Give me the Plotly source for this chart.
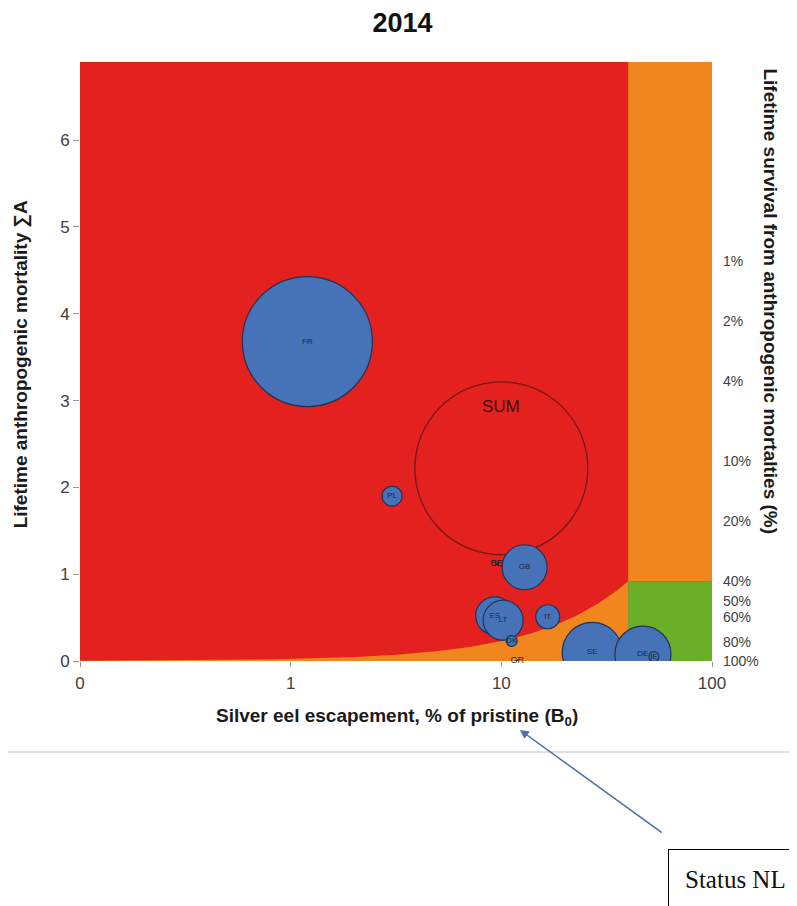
import numpy as np
import plotly.graph_objects as go

# ---------------- data ----------------
countries = ["FR", "PL", "BE", "GB", "ES", "LT", "IT", "DK", "GR", "SE", "DE", "IE"]
escapement = [1.2, 3.03, 9.5, 12.9, 9.3, 10.2, 16.6, 11.2, 11.9, 27.0, 47.0, 53.0]  # % of B0
mortality = [3.68, 1.90, 1.12, 1.08, 0.52, 0.47, 0.51, 0.23, 0.0, 0.10, 0.08, 0.05]  # sum A
biomass = [4225, 100, 1, 506, 361, 400, 144, 30, 1, 900, 784, 25]  # relative bubble area

sum_label = "SUM"
sum_escapement = 10.0
sum_mortality = 2.22
sum_biomass = 7480

B_LIM = 40.0      # % of pristine
A_LIM = 0.92      # lifetime mortality limit
X_MIN, X_MAX = 0.1, 100.0
Y_MAX = 6.9

x_tickvals = [0.1, 1, 10, 100]
x_ticktext = ["0", "1", "10", "100"]
y_tickvals = [0, 1, 2, 3, 4, 5, 6]
survival_pct = [1, 2, 4, 10, 20, 40, 50, 60, 80, 100]

# ---------------- colours ----------------
RED = "#E3211F"
ORANGE = "#EF861E"
GREEN = "#6BAF28"
BLUE = "#4672B8"
EDGE = "#1E3355"
TXT = "#404040"
FONT = "Liberation Sans"

fig = go.Figure()

# orange region under the limit curve
cx = np.logspace(np.log10(X_MIN), np.log10(B_LIM), 200)
cy = A_LIM * cx / B_LIM
fig.add_trace(go.Scatter(
    x=list(cx) + [B_LIM, X_MIN], y=list(cy) + [0, 0],
    fill="toself", fillcolor=ORANGE, mode="lines", line=dict(width=0),
    hoverinfo="skip", showlegend=False))
# orange upper right
fig.add_trace(go.Scatter(
    x=[B_LIM, X_MAX, X_MAX, B_LIM], y=[A_LIM, A_LIM, Y_MAX, Y_MAX],
    fill="toself", fillcolor=ORANGE, mode="lines", line=dict(width=0),
    hoverinfo="skip", showlegend=False))
# green lower right
fig.add_trace(go.Scatter(
    x=[B_LIM, X_MAX, X_MAX, B_LIM], y=[0, 0, A_LIM, A_LIM],
    fill="toself", fillcolor=GREEN, mode="lines", line=dict(width=0),
    hoverinfo="skip", showlegend=False))

# SUM bubble (outline only)
fig.add_trace(go.Scatter(
    x=[sum_escapement], y=[sum_mortality], mode="markers",
    marker=dict(size=[sum_biomass], sizemode="area", sizeref=0.5,
                color="rgba(0,0,0,0)", line=dict(color="#4A1414", width=1.3)),
    showlegend=False, hoverinfo="skip"))

# country bubbles
fig.add_trace(go.Scatter(
    x=escapement, y=mortality, mode="markers",
    marker=dict(size=biomass, sizemode="area", sizeref=0.5,
                color=BLUE, opacity=1, line=dict(color=EDGE, width=1.2)),
    showlegend=False, hoverinfo="skip"))

# country labels
label_sizes = [8 if c not in ("BE", "GR") else 9 for c in countries]
fig.add_trace(go.Scatter(
    x=escapement, y=mortality, mode="text", text=countries,
    textposition="middle center",
    textfont=dict(family=FONT, size=label_sizes,
                  color=["#111111" if c in ("BE",) else "#1A2A44" for c in countries]),
    cliponaxis=False, showlegend=False, hoverinfo="skip"))

# invisible trace for right axis
fig.add_trace(go.Scatter(x=[X_MIN], y=[0], yaxis="y2", mode="markers",
                         marker=dict(opacity=0), showlegend=False, hoverinfo="skip"))

TITLE_FONT = dict(family=FONT, size=19, color="#1A1A1A")

annotations = [
    dict(x=np.log10(sum_escapement), y=sum_mortality, xref="x", yref="y",
         text=sum_label, showarrow=False, yshift=62,
         font=dict(family=FONT, size=17, color="#3A1010")),
    dict(x=-0.092, y=0.495, xref="paper", yref="paper", textangle=-90,
         xanchor="center", yanchor="middle",
         text="<b>Lifetime anthropogenic mortality ∑A</b>", showarrow=False,
         font=TITLE_FONT),
    dict(x=1.092, y=0.6, xref="paper", yref="paper", textangle=90,
         xanchor="center", yanchor="middle",
         text="<b>Lifetime survival from anthropogenic mortalties (%)</b>", showarrow=False,
         font=TITLE_FONT),
    dict(x=0.502, y=-0.094, xref="paper", yref="paper",
         xanchor="center", yanchor="middle",
         text="<b>Silver eel escapement, % of pristine (B<sub>0</sub>)</b>", showarrow=False,
         font=TITLE_FONT),
    dict(x=0.696, y=-0.115, xref="paper", yref="paper", text=" ",
         showarrow=True, ax=145, ay=105, axref="pixel", ayref="pixel",
         arrowhead=2, arrowsize=1.2, arrowwidth=1.5, arrowcolor="#4A6EA8"),
    dict(x=0.930, y=-0.314, xref="paper", yref="paper", xanchor="left", yanchor="top",
         text="Status NL", showarrow=False, align="left",
         bordercolor="#000000", borderwidth=1, borderpad=16, bgcolor="white",
         font=dict(family="Liberation Serif", size=25, color="#111111")),
]

fig.update_layout(
    width=789, height=898,
    margin=dict(l=72, r=85, t=54, b=245, autoexpand=False),
    paper_bgcolor="white", plot_bgcolor=RED,
    title=dict(text="<b>2014</b>", x=0.5, xanchor="center", y=0.984, yanchor="middle",
               font=dict(family=FONT, size=27, color="#111111")),
    xaxis=dict(type="log", range=[np.log10(X_MIN), np.log10(X_MAX)],
               tickvals=x_tickvals, ticktext=x_ticktext,
               showgrid=False, zeroline=False, showline=False,
               ticks="outside", ticklen=5, tickcolor="#999999",
               ticklabelstandoff=2,
               tickfont=dict(family=FONT, size=17, color=TXT)),
    yaxis=dict(range=[0, Y_MAX], tickvals=y_tickvals, showgrid=False, zeroline=False,
               showline=False, ticks="outside", ticklen=6, tickcolor="#999999",
               tickfont=dict(family=FONT, size=17, color=TXT)),
    yaxis2=dict(range=[0, Y_MAX], overlaying="y", side="right",
                tickvals=[-np.log(p / 100.0) for p in survival_pct],
                ticktext=[f"{p}%" for p in survival_pct],
                showgrid=False, zeroline=False, showline=False, ticks="",
                ticklabelstandoff=10,
                tickfont=dict(family=FONT, size=14, color=TXT)),
    annotations=annotations,
    shapes=[dict(type="line", xref="paper", yref="paper",
                 x0=-0.114, x1=1.14, y0=-0.152, y1=-0.152,
                 line=dict(color="#D5D5D5", width=1.5))],
)

fig.write_html("out.html")
